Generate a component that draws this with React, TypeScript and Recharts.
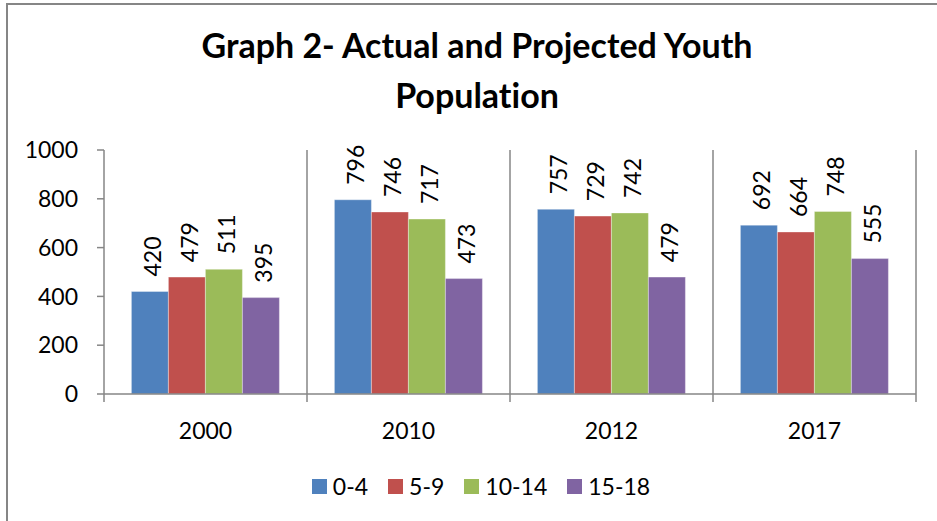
import React from 'react';
import { BarChart, Bar, XAxis, YAxis, CartesianGrid, Legend, LabelList } from 'recharts';

const years = ['2000', '2010', '2012', '2017'];
const age0to4 = [420, 796, 757, 692];
const age5to9 = [479, 746, 729, 664];
const age10to14 = [511, 717, 742, 748];
const age15to18 = [395, 473, 479, 555];
const yTicks = [0, 200, 400, 600, 800, 1000];

const SERIES = [
  { key: 'a0', name: '0-4', color: '#4F81BD', values: age0to4 },
  { key: 'a5', name: '5-9', color: '#C0504D', values: age5to9 },
  { key: 'a10', name: '10-14', color: '#9BBB59', values: age10to14 },
  { key: 'a15', name: '15-18', color: '#8064A2', values: age15to18 },
];

const data = years.map((year, i) => {
  const row: Record<string, string | number> = { year };
  SERIES.forEach((s) => {
    row[s.key] = s.values[i];
  });
  return row;
});

const FONT = 'Lato, "Open Sans", sans-serif';
const AXIS_GRAY = '#868686';
const CHART_W = 937;
const CHART_H = 521;
const MARGIN = { top: 150, right: 21, bottom: 10, left: 0 };
const Y_AXIS_W = 104;
const BAND = (CHART_W - MARGIN.right - MARGIN.left - Y_AXIS_W) / years.length;

const VerticalLabel = (props: any) => {
  const { x, y, width, value } = props;
  const cx = Number(x) + Number(width) / 2 + 2;
  const ty = Number(y) - 15;
  return (
    <text
      x={cx}
      y={ty}
      transform={`rotate(-90 ${cx} ${ty})`}
      textAnchor="start"
      dominantBaseline="central"
      fontFamily={FONT}
      fontSize={23}
      fill="#000"
    >
      {value}
    </text>
  );
};

const YearTick = (props: any) => {
  const { x, y, payload, index, visibleTicksCount } = props;
  const left = x - BAND / 2;
  const right = x + BAND / 2;
  return (
    <g>
      <line x1={left} y1={y} x2={left} y2={y + 8} stroke={AXIS_GRAY} strokeWidth={1.5} />
      {index === visibleTicksCount - 1 && (
        <line x1={right} y1={y} x2={right} y2={y + 8} stroke={AXIS_GRAY} strokeWidth={1.5} />
      )}
      <text
        x={x}
        y={y + 36}
        textAnchor="middle"
        dominantBaseline="central"
        fontFamily={FONT}
        fontSize={23}
        fill="#000"
      >
        {payload.value}
      </text>
    </g>
  );
};

const LegendContent = () => (
  <div
    style={{
      display: 'flex',
      justifyContent: 'center',
      alignItems: 'center',
      height: 50,
      paddingLeft: 46,
      fontFamily: FONT,
      fontSize: 23,
      color: '#000',
    }}
  >
    {SERIES.map((s) => (
      <div key={s.key} style={{ display: 'flex', alignItems: 'center', margin: '0 10px' }}>
        <span style={{ width: 15, height: 15, background: s.color, marginRight: 6, display: 'inline-block' }} />
        <span>{s.name}</span>
      </div>
    ))}
  </div>
);

export default function App() {
  return (
    <div
      style={{
        position: 'absolute',
        left: 0,
        top: 0,
        width: CHART_W,
        height: CHART_H,
        background: '#fff',
        overflow: 'hidden',
      }}
    >
      <div
        style={{
          position: 'absolute',
          left: 6,
          top: 3,
          width: CHART_W,
          height: CHART_H,
          borderTop: `2px solid ${AXIS_GRAY}`,
          borderLeft: `2px solid ${AXIS_GRAY}`,
        }}
      />
      <div
        style={{
          position: 'absolute',
          left: 0,
          top: 20,
          width: 954,
          textAlign: 'center',
          fontFamily: FONT,
          fontWeight: 700,
          fontSize: 34,
          lineHeight: '50px',
          fontVariantLigatures: 'none',
          color: '#000',
        }}
      >
        Graph 2- Actual and Projected Youth
        <br />
        Population
      </div>
      <div style={{ position: 'absolute', left: 0, top: 0 }}>
        <BarChart
          width={CHART_W}
          height={CHART_H}
          data={data}
          margin={MARGIN}
          barCategoryGap="13.5%"
          barGap={0}
        >
          <CartesianGrid
            horizontal={false}
            stroke={AXIS_GRAY}
            strokeWidth={1.5}
            verticalCoordinatesGenerator={({ offset }: any) =>
              years.map((_, i) => offset.left + (i + 1) * (offset.width / years.length))
            }
          />
          <XAxis
            dataKey="year"
            height={67}
            tickLine={false}
            tickSize={0}
            tickMargin={0}
            axisLine={{ stroke: AXIS_GRAY, strokeWidth: 1.5 }}
            tick={<YearTick />}
            interval={0}
          />
          <YAxis
            width={Y_AXIS_W}
            domain={[0, 1000]}
            ticks={yTicks}
            tickSize={7}
            tickMargin={19}
            axisLine={{ stroke: AXIS_GRAY, strokeWidth: 1.5 }}
            tickLine={{ stroke: AXIS_GRAY, strokeWidth: 1.5 }}
            tick={{ fill: '#000', fontSize: 23, fontFamily: FONT }}
          />
          <Legend verticalAlign="bottom" height={50} content={<LegendContent />} />
          {SERIES.map((s) => (
            <Bar
              key={s.key}
              dataKey={s.key}
              name={s.name}
              fill={s.color}
              stroke="#ffffff"
              strokeOpacity={0.35}
              strokeWidth={1}
              isAnimationActive={false}
            >
              <LabelList dataKey={s.key} content={<VerticalLabel />} />
            </Bar>
          ))}
        </BarChart>
      </div>
    </div>
  );
}
